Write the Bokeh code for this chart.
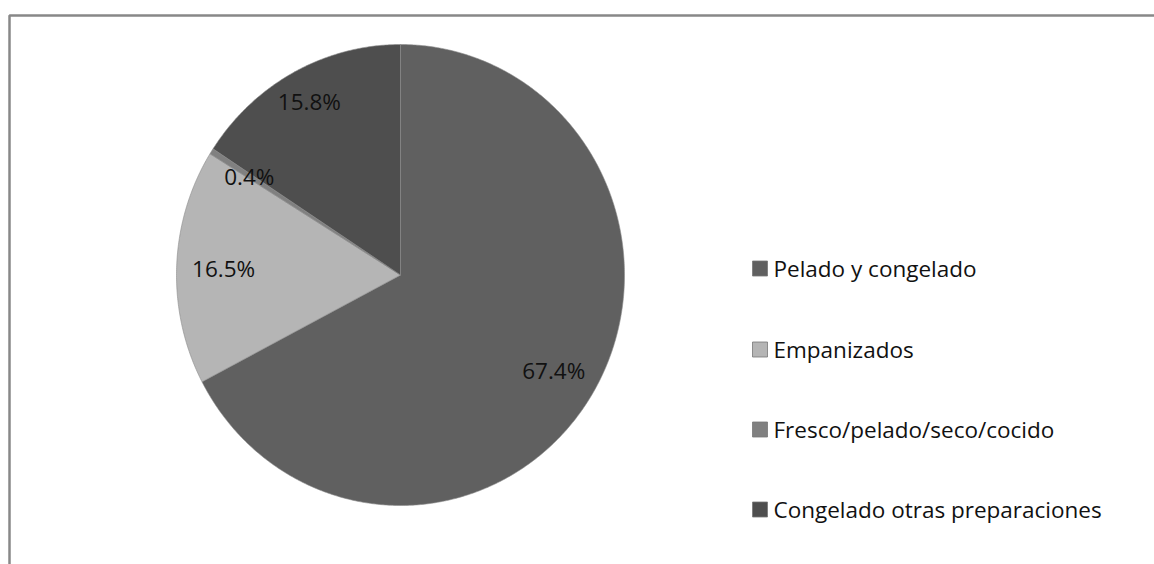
import numpy as np
from bokeh.plotting import figure
from bokeh.models import Range1d, ColumnDataSource
from bokeh.core.properties import value
from bokeh.embed import file_html
from bokeh.resources import INLINE

# ---- data ----
categories = ["Pelado y congelado", "Empanizados", "Fresco/pelado/seco/cocido", "Congelado otras preparaciones"]
shares = [67.4, 16.5, 0.4, 15.8]
pct_labels = ["67.4%", "16.5%", "0.4%", "15.8%"]
colors = ["#606060", "#b5b5b5", "#808080", "#4e4e4e"]

# ---- layout ----
W, H = 1154, 564
cx, cy = 400, H - 274.5
rx, ry = 224, 230.5
label_r = [0.80, 0.79, 0.80, 0.855]
FONT = "Open Sans"
FS = "22.5px"

p = figure(width=W, height=H, output_backend="svg", toolbar_location=None,
           x_range=Range1d(0, W), y_range=Range1d(0, H), min_border=0)
p.axis.visible = False
p.grid.visible = False
p.outline_line_color = None
p.background_fill_color = "white"
p.border_fill_color = "white"

# outer chart border (extends past the window at right/bottom)
p.line(x=[9, 9, W + 20], y=[-20, H - 15, H - 15], line_color="#888888", line_width=2.5)

total = sum(shares)
fr = np.cumsum([0] + shares) / total
xs, ys, lx, ly = [], [], [], []
for i in range(len(shares)):
    a0, a1 = fr[i] * 2 * np.pi, fr[i + 1] * 2 * np.pi
    t = np.linspace(a0, a1, max(3, int((a1 - a0) * 120)))
    # clockwise from 12 o'clock
    px = cx + rx * np.sin(t)
    py = cy + ry * np.cos(t)
    xs.append([cx] + list(px))
    ys.append([cy] + list(py))
    am = (a0 + a1) / 2
    lx.append(cx + label_r[i] * rx * np.sin(am))
    ly.append(cy + label_r[i] * ry * np.cos(am))

src = ColumnDataSource(dict(xs=xs, ys=ys, color=colors, cat=categories))
p.patches("xs", "ys", source=src, fill_color="color", line_color="#8c8c8c", line_width=0.6)

p.text(x=lx, y=ly, text=pct_labels, text_align="center", text_baseline="middle",
       text_font=value(FONT), text_font_size=FS, text_color="#111111")

# legend
leg_y = [H - 268, H - 349, H - 429, H - 509]
p.rect(x=[759.5] * 4, y=leg_y, width=15, height=15, fill_color=colors,
       line_color="#777777", line_width=0.8)
p.text(x=[773] * 4, y=leg_y, text=categories, text_align="left", text_baseline="middle",
       text_font=value(FONT), text_font_size=FS, text_color="#111111")

open("out.html", "w").write(file_html(p, INLINE))
